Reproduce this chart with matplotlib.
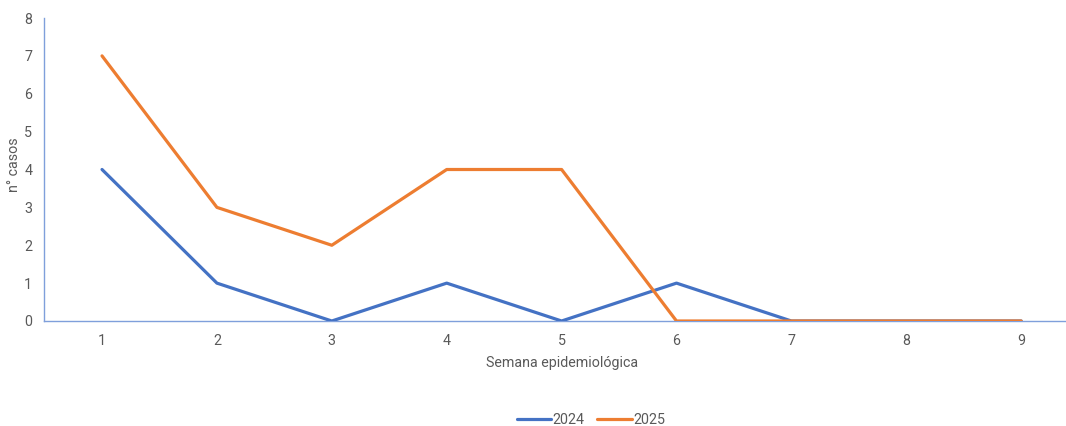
import matplotlib
matplotlib.use("Agg")
import matplotlib.pyplot as plt

weeks = [1, 2, 3, 4, 5, 6, 7, 8, 9]
cases_2024 = [4, 1, 0, 1, 0, 1, 0, 0, 0]
cases_2025 = [7, 3, 2, 4, 4, 0, 0, 0, 0]
yticks = [0, 1, 2, 3, 4, 5, 6, 7, 8]

plt.rcParams['font.family'] = ['Roboto', 'DejaVu Sans']
gray = '#595959'
axis_col = '#7F9FDB'

fig = plt.figure(figsize=(10.66, 4.26), dpi=100)
ax = fig.add_axes([44/1066, 1 - 321/426, 1 - 44/1066, (321 - 18)/426])

ax.plot(weeks, cases_2024, color='#4472C4', lw=2.3, label='2024', solid_capstyle='round', zorder=3)
ax.plot(weeks, cases_2025, color='#ED7D31', lw=2.3, label='2025', solid_capstyle='round', zorder=3)

ax.set_xlim(0.495, 9.39)
ax.set_ylim(0, 8)
ax.set_xticks(weeks)
ax.set_xticklabels([str(w) for w in weeks])
ax.set_yticks(yticks)
ax.tick_params(axis='both', length=0, labelsize=10.3, colors=gray)
ax.tick_params(axis='x', pad=9.5)
ax.tick_params(axis='y', pad=8.5)

for s in ['top', 'right']:
    ax.spines[s].set_visible(False)
for s in ['left', 'bottom']:
    ax.spines[s].set_color(axis_col)
    ax.spines[s].set_linewidth(1.0)
ax.spines['bottom'].set_zorder(2)

ax.set_xlabel('Semana epidemiológica', fontsize=10.3, color=gray)
ax.xaxis.set_label_coords((562 - 44) / 1022, -(363 - 321) / 303)
ax.xaxis.label.set_va('center')
ax.set_ylabel('n° casos', fontsize=10.3, color=gray)
ax.yaxis.set_label_coords(-(44 - 14) / 1022, (321 - 165) / 303)
ax.yaxis.label.set_va('center')

leg = fig.legend(loc='center', bbox_to_anchor=(591/1066, 1 - 420/426), ncol=2,
                 frameon=False, fontsize=10.3, handlelength=2.4, columnspacing=0.9,
                 handletextpad=0.1, labelcolor=gray)

fig.savefig('out.png', dpi=100)
